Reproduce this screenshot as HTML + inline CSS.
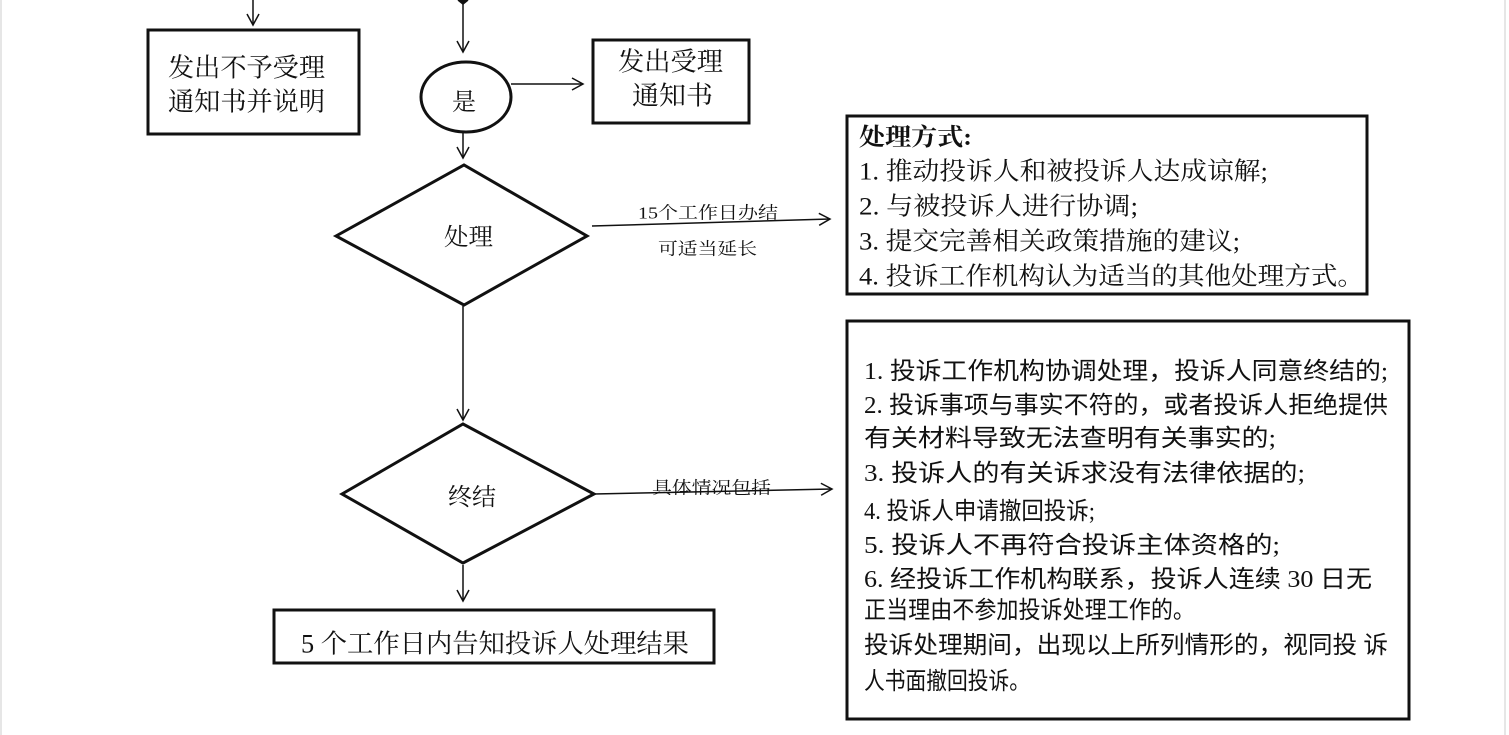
<!DOCTYPE html>
<html><head><meta charset="utf-8"><style>
html,body{margin:0;padding:0;background:#fff;width:1509px;height:735px;overflow:hidden}
svg text{fill:#111}
.s{font-family:"Liberation Serif","Noto Serif CJK SC",serif}
.h{font-family:"Liberation Serif","Noto Sans CJK SC",sans-serif}
</style></head><body>
<svg width="1509" height="735" viewBox="0 0 1509 735" xmlns="http://www.w3.org/2000/svg">
<defs><marker id="a" markerWidth="14" markerHeight="14" refX="12" refY="7" orient="auto" markerUnits="userSpaceOnUse">
<path d="M1,1 L12,7 L1,13" fill="none" stroke="#111" stroke-width="1.5"/></marker></defs>
<line x1="1" y1="0" x2="1" y2="735" stroke="#ccc"/>
<line x1="1505" y1="0" x2="1505" y2="735" stroke="#ccc"/>
<g stroke="#111" stroke-width="1.5" fill="none">
<line x1="253" y1="0" x2="253" y2="25" marker-end="url(#a)"/>
<line x1="463" y1="2" x2="463" y2="52" marker-end="url(#a)"/>
<path d="M458,0 L463,4 L468,0" fill="#111"/>
<line x1="511" y1="84" x2="583" y2="84" marker-end="url(#a)"/>
<line x1="463" y1="133" x2="463" y2="158" marker-end="url(#a)"/>
<line x1="592" y1="226" x2="830" y2="219" marker-end="url(#a)"/>
<line x1="463" y1="306" x2="463" y2="420" marker-end="url(#a)"/>
<line x1="594" y1="494" x2="832" y2="489" marker-end="url(#a)"/>
<line x1="463" y1="565" x2="463" y2="601" marker-end="url(#a)"/>
</g>
<g stroke="#111" stroke-width="3" fill="#fff">
<rect x="148" y="30" width="211" height="104"/>
<ellipse cx="466" cy="97" rx="45" ry="35"/>
<rect x="593" y="40" width="156" height="83"/>
<polygon points="336,236 464,165 587,236 464,305"/>
<rect x="847" y="116" width="520" height="178"/>
<rect x="847" y="321" width="562" height="398"/>
<polygon points="342,494 463,424 594,494 463,563"/>
<rect x="274" y="610" width="440" height="53"/>
</g>
<g class="s" dominant-baseline="central" lengthAdjust="spacingAndGlyphs">
<text x="168" y="68" font-size="26" textLength="157" lengthAdjust="spacingAndGlyphs">发出不予受理</text>
<text x="168" y="102" font-size="26" textLength="157" lengthAdjust="spacingAndGlyphs">通知书并说明</text>
<text x="452" y="103" font-size="24">是</text>
<text x="618" y="62" font-size="26" textLength="105" lengthAdjust="spacingAndGlyphs">发出受理</text>
<text x="632" y="96" font-size="26" textLength="81" lengthAdjust="spacingAndGlyphs">通知书</text>
<text x="444" y="238" font-size="24" textLength="49" lengthAdjust="spacingAndGlyphs">处理</text>
<text x="638" y="213" font-size="17" textLength="140" lengthAdjust="spacingAndGlyphs">15个工作日办结</text>
<text x="658" y="249" font-size="17" textLength="99" lengthAdjust="spacingAndGlyphs">可适当延长</text>
<text x="448" y="498" font-size="24" textLength="48" lengthAdjust="spacingAndGlyphs">终结</text>
<text x="652" y="488" font-size="17" textLength="119" lengthAdjust="spacingAndGlyphs">具体情况包括</text>
<text x="301" y="644" font-size="26" textLength="388" lengthAdjust="spacingAndGlyphs">5 个工作日内告知投诉人处理结果</text>
<text x="859" y="138" font-size="24" font-weight="bold" textLength="113" lengthAdjust="spacingAndGlyphs">处理方式:</text>
<text x="859" y="172" font-size="25" textLength="409" lengthAdjust="spacingAndGlyphs">1. 推动投诉人和被投诉人达成谅解;</text>
<text x="859" y="207" font-size="25" textLength="279" lengthAdjust="spacingAndGlyphs">2.  与被投诉人进行协调;</text>
<text x="859" y="242" font-size="25" textLength="381" lengthAdjust="spacingAndGlyphs">3. 提交完善相关政策措施的建议;</text>
<text x="859" y="277" font-size="25" textLength="505" lengthAdjust="spacingAndGlyphs">4. 投诉工作机构认为适当的其他处理方式。</text>
</g>
<g class="h" dominant-baseline="central" font-size="24">
<text x="864" y="372" textLength="524" lengthAdjust="spacingAndGlyphs">1. 投诉工作机构协调处理，投诉人同意终结的;</text>
<text x="864" y="406" textLength="524" lengthAdjust="spacingAndGlyphs">2. 投诉事项与事实不符的，或者投诉人拒绝提供</text>
<text x="864" y="439" textLength="412" lengthAdjust="spacingAndGlyphs">有关材料导致无法查明有关事实的;</text>
<text x="864" y="474" textLength="441" lengthAdjust="spacingAndGlyphs">3. 投诉人的有关诉求没有法律依据的;</text>
<text x="864" y="512" textLength="231" lengthAdjust="spacingAndGlyphs">4. 投诉人申请撤回投诉;</text>
<text x="864" y="546" textLength="416" lengthAdjust="spacingAndGlyphs">5. 投诉人不再符合投诉主体资格的;</text>
<text x="864" y="580" textLength="508" lengthAdjust="spacingAndGlyphs">6. 经投诉工作机构联系，投诉人连续 30 日无</text>
<text x="864" y="611" textLength="331" lengthAdjust="spacingAndGlyphs">正当理由不参加投诉处理工作的。</text>
<text x="864" y="646" textLength="524" lengthAdjust="spacingAndGlyphs">投诉处理期间，出现以上所列情形的，视同投 诉</text>
<text x="864" y="682" textLength="166" lengthAdjust="spacingAndGlyphs">人书面撤回投诉。</text>
</g>
</svg>
</body></html>
